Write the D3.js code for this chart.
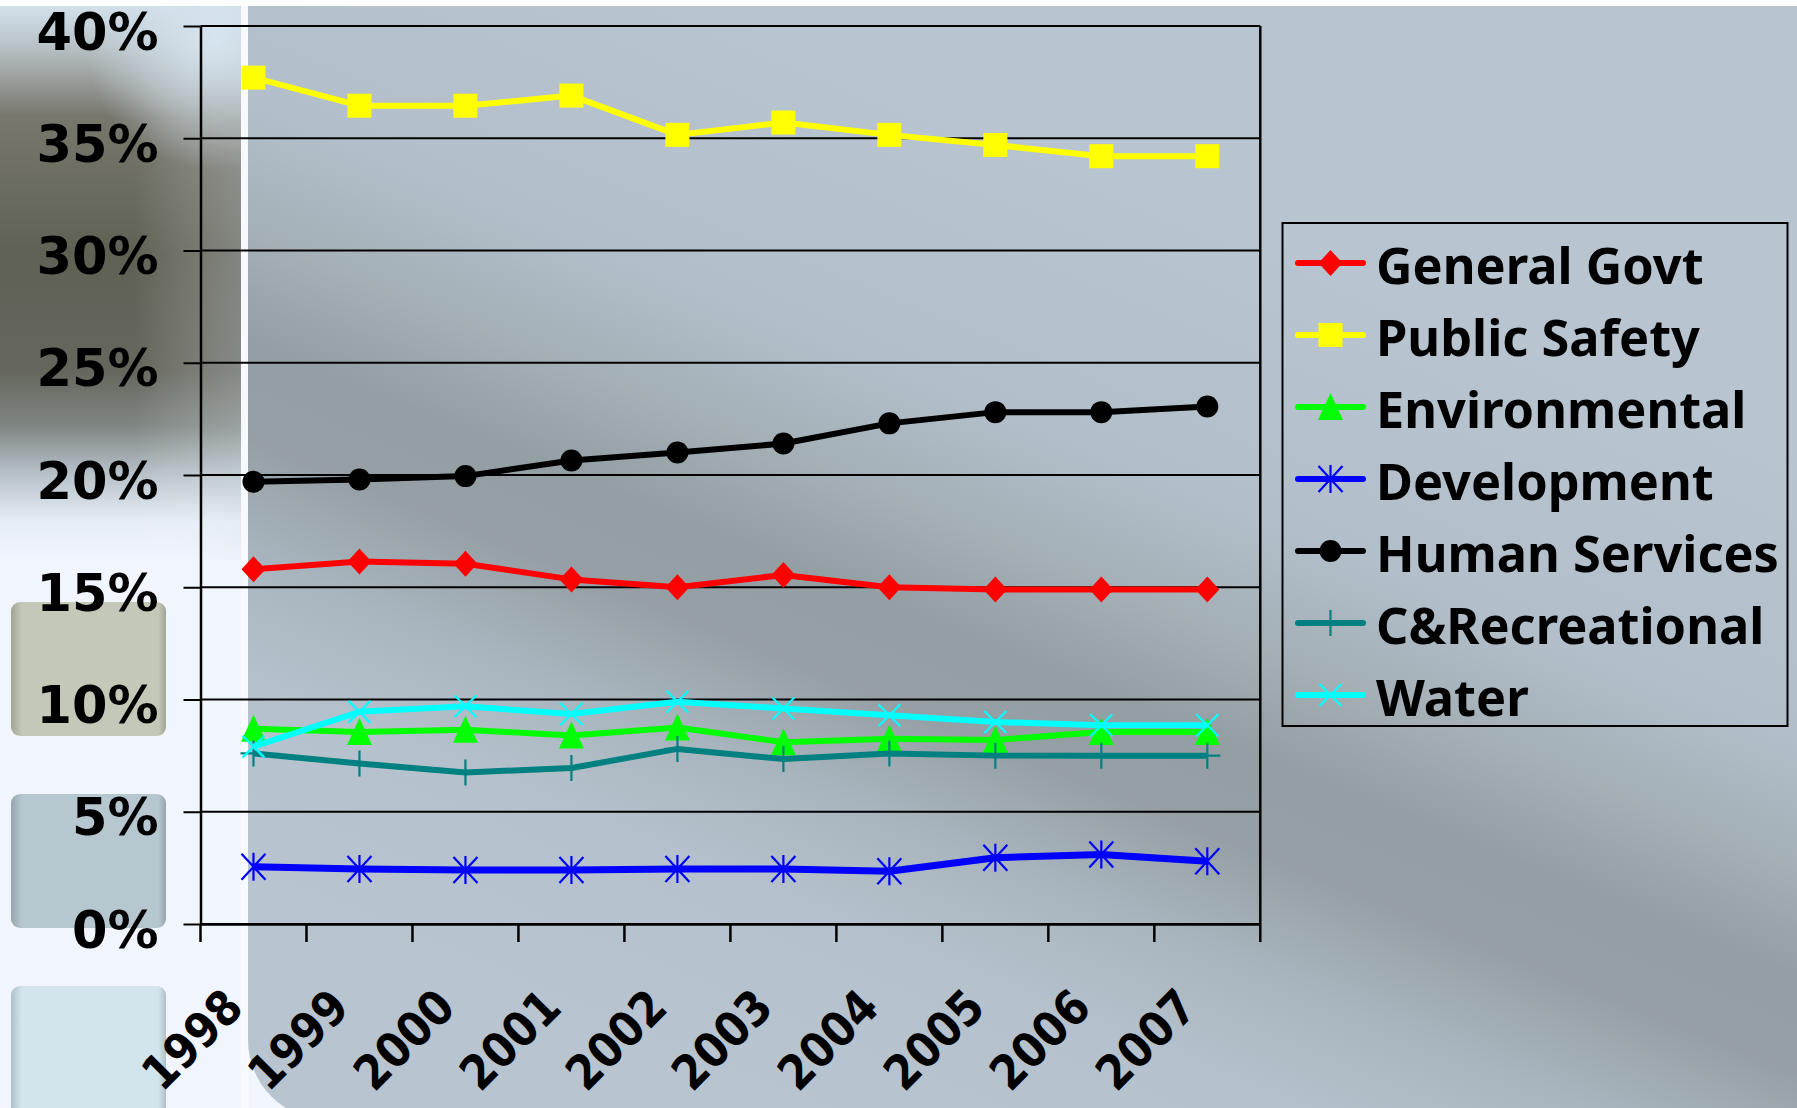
<!DOCTYPE html>
<html><head><meta charset="utf-8">
<script src="https://cdn.jsdelivr.net/npm/d3@7"></script>
<style>html,body{margin:0;padding:0;background:#f1f5fd;overflow:hidden}</style>
</head><body><svg id="chart" width="1797" height="1108"></svg>
<script>
// ---------- data ----------
const categories = ['1998','1999','2000','2001','2002','2003','2004','2005','2006','2007'];
const seriesNames = ['General Govt','Public Safety','Environmental','Development','Human Services','C&Recreational','Water'];
const generalGovt   = [15.8, 16.15, 16.05, 15.35, 15.0, 15.55, 15.0, 14.9, 14.9, 14.9];
const publicSafety  = [37.7, 36.45, 36.45, 36.9, 35.15, 35.7, 35.15, 34.7, 34.2, 34.2];
const environmental = [8.7, 8.55, 8.65, 8.4, 8.75, 8.1, 8.25, 8.2, 8.55, 8.55];
const development   = [2.55, 2.45, 2.4, 2.4, 2.45, 2.45, 2.35, 2.95, 3.1, 2.8];
const humanServices = [19.7, 19.8, 19.95, 20.65, 21.0, 21.4, 22.3, 22.8, 22.8, 23.05];
const cRecreational = [7.6, 7.15, 6.75, 6.95, 7.8, 7.35, 7.6, 7.5, 7.5, 7.5];
const water         = [7.9, 9.45, 9.7, 9.35, 9.9, 9.6, 9.3, 9.0, 8.85, 8.85];
const yTicks = [0, 5, 10, 15, 20, 25, 30, 35, 40];

const seriesValues = [generalGovt, publicSafety, environmental, development, humanServices, cRecreational, water];
const seriesColors = ['#ff0000','#ffff00','#00ff00','#0000ff','#000000','#008080','#00ffff'];
const seriesMarkers = ['diamond','square','triangle','star','circle','plus','x'];

// ---------- layout ----------
const W = 1797, H = 1108;
const svg = d3.select('#chart');
const defs = svg.append('defs');

function linGrad(id, x1, y1, x2, y2, stops) {
  const g = defs.append('linearGradient').attr('id', id)
    .attr('gradientUnits', 'userSpaceOnUse')
    .attr('x1', x1).attr('y1', y1).attr('x2', x2).attr('y2', y2);
  stops.forEach(s => g.append('stop').attr('offset', s[0]).attr('stop-color', s[1]).attr('stop-opacity', s[2] === undefined ? 1 : s[2]));
}

// background
svg.append('rect').attr('width', W).attr('height', H).attr('fill', '#f1f5fd');

linGrad('leftDark', 0, 6, 0, 560, [
  [0, '#d3e0eb'], [0.07, '#b9c3c8'], [0.2, '#77776c'], [0.45, '#606155'],
  [0.66, '#65675d'], [0.76, '#808784'], [0.84, '#b4bec5'], [0.93, '#e6edf6'], [1, '#f1f5fd']]);
svg.append('rect').attr('x', 0).attr('y', 6).attr('width', 243).attr('height', 554).attr('fill', 'url(#leftDark)');
// lighter toward the right edge of the dark area
linGrad('leftSide', 0, 0, 243, 0, [[0, '#ffffff', 0], [0.55, '#ffffff', 0], [1, '#dce6ee', 0.28]]);
svg.append('rect').attr('x', 0).attr('y', 6).attr('width', 243).attr('height', 554).attr('fill', 'url(#leftSide)');

const rg = defs.append('radialGradient').attr('id', 'blob').attr('gradientUnits', 'userSpaceOnUse')
  .attr('cx', 215).attr('cy', 40).attr('r', 130);
rg.append('stop').attr('offset', 0).attr('stop-color', '#d8e6f1').attr('stop-opacity', 0.95);
rg.append('stop').attr('offset', 0.6).attr('stop-color', '#d0dde8').attr('stop-opacity', 0.5);
rg.append('stop').attr('offset', 1).attr('stop-color', '#d0dde8').attr('stop-opacity', 0);
svg.append('rect').attr('x', 60).attr('y', 6).attr('width', 183).attr('height', 200).attr('fill', 'url(#blob)');

// left boxes
const boxes = [[602, 134, '#c3c8b8', '#9fa595'], [794, 134, '#b7c7d0', '#95a4ad'], [986, 140, '#d2e5ed', '#aebfc7']];
boxes.forEach((b, i) => {
  linGrad('box' + i, 11, 0, 166, 0, [[0, b[3]], [0.07, b[2]], [0.95, b[2]], [1, b[3]]]);
  svg.append('rect').attr('x', 11).attr('y', b[0]).attr('width', 155).attr('height', b[1])
    .attr('rx', 9).attr('fill', 'url(#box' + i + ')');
});

// panel
linGrad('panelGrad', 1231, 225, 852, 1150, [
  [0, '#b8c5d0'], [0.26, '#b2bfca'], [0.38, '#a4afb6'], [0.48, '#949fa4'],
  [0.57, '#959fa5'], [0.68, '#a9b5be'], [0.8, '#b5c2cd'], [1, '#b8c5d0']]);
svg.append('rect').attr('x', 241).attr('y', 6).attr('width', 8).attr('height', H).attr('fill', '#f6f9fd');
svg.append('path').attr('d', 'M248,6 H1797 V1120 H328 A80,80 0 0 1 248,1040 Z').attr('fill', 'url(#panelGrad)');
svg.append('rect').attr('x', 0).attr('y', 0).attr('width', W).attr('height', 6).attr('fill', '#fbfdfe');

// ---------- scales ----------
const plotL = 200.5, plotR = 1260.3, plotT = 26, plotB = 924;
const x = d3.scaleBand().domain(categories).range([plotL, plotR]).padding(0);
const xc = c => x(c) + x.bandwidth() / 2;
const y = d3.scaleLinear().domain([0, 40]).range([plotB, plotT]);

// gridlines
svg.append('g').selectAll('line').data(yTicks).join('line')
  .attr('x1', plotL).attr('x2', plotR)
  .attr('y1', d => y(d)).attr('y2', d => y(d))
  .attr('stroke', '#000').attr('stroke-width', 2);

// y axis
const yAxis = svg.append('g').attr('transform', `translate(${plotL},0)`)
  .call(d3.axisLeft(y).tickValues(yTicks).tickSize(17).tickSizeOuter(0).tickPadding(24).tickFormat(d => d + '%'));
yAxis.select('.domain').attr('stroke', '#000').attr('stroke-width', 2.5);
yAxis.selectAll('.tick line').attr('stroke', '#000').attr('stroke-width', 2);
yAxis.selectAll('.tick text')
  .attr('font-family', '"DejaVu Sans", sans-serif').attr('font-weight', 'bold')
  .attr('font-size', 51).attr('fill', '#000').attr('dy', 23).attr('x', -42);

// x axis
const xAxis = svg.append('g').attr('transform', `translate(0,${plotB})`)
  .call(d3.axisBottom(x).tickSize(0).tickSizeOuter(0));
xAxis.select('.domain').attr('stroke', '#000').attr('stroke-width', 2.5);
xAxis.selectAll('.tick text')
  .attr('font-family', '"DejaVu Sans", sans-serif').attr('font-weight', 'bold')
  .attr('font-size', 48).attr('fill', '#000')
  .attr('y', 0).attr('dy', 0).attr('text-anchor', 'end')
  .attr('transform', 'translate(-8,86) rotate(-45) scale(0.88,1)');
// boundary tick marks
const bounds = categories.map(c => x(c)).concat([plotR]);
svg.append('g').selectAll('line').data(bounds).join('line')
  .attr('x1', d => d).attr('x2', d => d).attr('y1', plotB).attr('y2', plotB + 18)
  .attr('stroke', '#000').attr('stroke-width', 2.5);
// right border
svg.append('line').attr('x1', plotR).attr('x2', plotR).attr('y1', plotT).attr('y2', plotB)
  .attr('stroke', '#000').attr('stroke-width', 2.5);

// ---------- markers ----------
function drawMarker(g, type, color, cx, cy) {
  const t = `translate(${cx},${cy})`;
  if (type === 'diamond') {
    g.append('path').attr('d', 'M0,-13L12,0L0,13L-12,0Z').attr('transform', t).attr('fill', color);
  } else if (type === 'square') {
    g.append('rect').attr('x', cx - 12).attr('y', cy - 12).attr('width', 24).attr('height', 24).attr('fill', color);
  } else if (type === 'triangle') {
    g.append('path').attr('d', 'M0,-14L12.5,13L-12.5,13Z').attr('transform', t).attr('fill', color);
  } else if (type === 'circle') {
    g.append('circle').attr('cx', cx).attr('cy', cy).attr('r', 11).attr('fill', color);
  } else if (type === 'star') {
    g.append('path').attr('d', 'M-12,-13L12,13M12,-13L-12,13M0,-14L0,14').attr('transform', t)
      .attr('stroke', color).attr('stroke-width', 2.2).attr('fill', 'none');
  } else if (type === 'x') {
    g.append('path').attr('d', 'M-11,-11L11,11M11,-11L-11,11').attr('transform', t)
      .attr('stroke', color).attr('stroke-width', 2.2).attr('fill', 'none');
  } else if (type === 'plus') {
    g.append('path').attr('d', 'M0,-13L0,13M-13,0L13,0').attr('transform', t)
      .attr('stroke', color).attr('stroke-width', 2.2).attr('fill', 'none');
  }
}

// ---------- series ----------
const line = d3.line().x((d, i) => xc(categories[i])).y(d => y(d));
const seriesG = svg.append('g');
seriesValues.forEach((vals, si) => {
  const g = seriesG.append('g');
  g.append('path').datum(vals).attr('d', line).attr('fill', 'none')
    .attr('stroke', seriesColors[si]).attr('stroke-width', si === 3 ? 7 : 6).attr('stroke-linejoin', 'round');
  vals.forEach((v, i) => drawMarker(g, seriesMarkers[si], seriesColors[si], xc(categories[i]), y(v)));
});

// ---------- legend ----------
const legend = svg.append('g');
legend.append('rect').attr('x', 1282.5).attr('y', 223).attr('width', 505).attr('height', 503)
  .attr('fill', 'none').attr('stroke', '#000').attr('stroke-width', 2);
seriesNames.forEach((name, i) => {
  const ry = 263 + i * 72;
  legend.append('line').attr('x1', 1298).attr('x2', 1363).attr('y1', ry).attr('y2', ry)
    .attr('stroke', seriesColors[i]).attr('stroke-width', 6).attr('stroke-linecap', 'round');
  drawMarker(legend, seriesMarkers[i], seriesColors[i], 1330.5, ry);
  legend.append('text').attr('x', 1376).attr('y', ry + 20.5).text(name)
    .attr('font-family', '"Noto Sans", sans-serif').attr('font-weight', 'bold')
    .attr('font-size', 50.5).attr('fill', '#000');
});
</script></body></html>
